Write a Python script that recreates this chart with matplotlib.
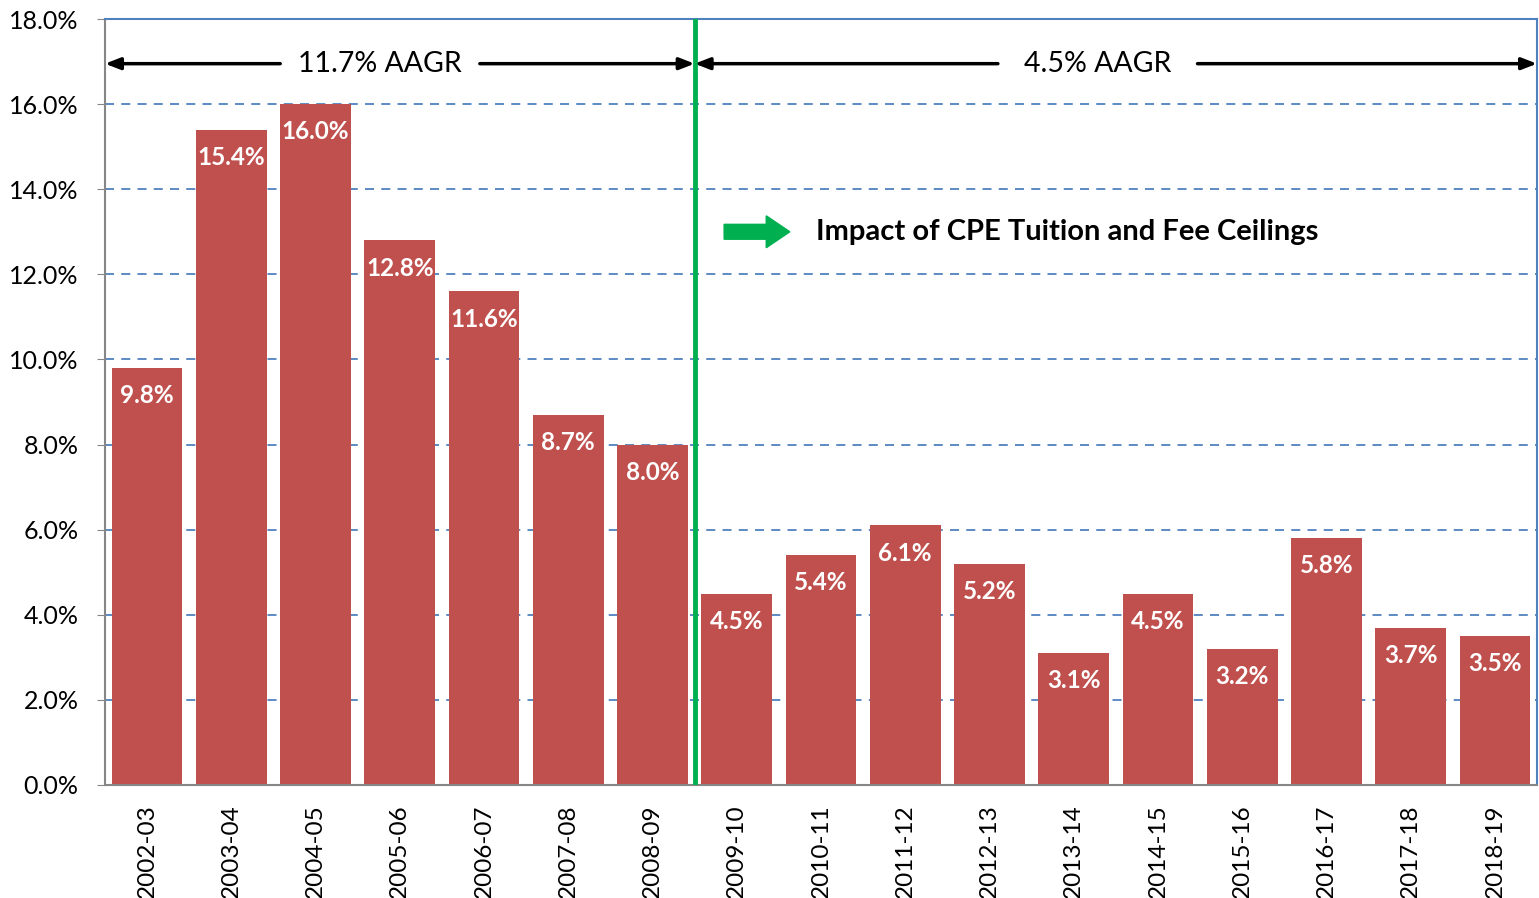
import numpy as np
import matplotlib.pyplot as plt
from matplotlib.patches import FancyArrow

plt.rcParams['font.family'] = ['Lato', 'DejaVu Sans']

# data
years = ['2002-03', '2003-04', '2004-05', '2005-06', '2006-07', '2007-08', '2008-09',
         '2009-10', '2010-11', '2011-12', '2012-13', '2013-14', '2014-15', '2015-16',
         '2016-17', '2017-18', '2018-19']
growth = [9.8, 15.4, 16.0, 12.8, 11.6, 8.7, 8.0,
          4.5, 5.4, 6.1, 5.2, 3.1, 4.5, 3.2, 5.8, 3.7, 3.5]
aagr_labels = ['11.7% AAGR', '4.5% AAGR']
note = 'Impact of CPE Tuition and Fee Ceilings'

bar_color = '#C0504D'
grid_color = '#4F81BD'
green = '#00B050'

fig = plt.figure(figsize=(15.39, 8.98), dpi=100)
ax = fig.add_axes([105/1539, 1 - 785/898, (1537 - 105)/1539, (785 - 19)/898])

x = np.arange(len(years))
ax.bar(x, growth, width=0.84, color=bar_color, zorder=2)

for xi, v in zip(x, growth):
    ax.annotate(f'{v:.1f}%', (xi, v), xytext=(0, -20), textcoords='offset points',
                ha='center', va='center', color='white', fontsize=17.5, fontweight='bold', zorder=3)

ax.set_xlim(-0.5, len(years) - 0.5)
ax.set_ylim(0, 18)
ax.set_yticks(np.arange(0, 19, 2))
ax.set_yticklabels([f'{t:.1f}%' for t in np.arange(0, 19, 2)], fontsize=18)
ax.set_xticks(x)
ax.set_xticklabels(years, rotation=90, fontsize=17.5)
ax.tick_params(axis='x', length=0, pad=14)
ax.tick_params(axis='y', length=6, color='#868686', pad=13)

for g in np.arange(2, 18, 2):
    ax.axhline(g, color=grid_color, lw=1.3, ls=(0, (5, 4)), zorder=1)

ax.spines['top'].set_color(grid_color)
ax.spines['right'].set_color(grid_color)
ax.spines['left'].set_color('#868686')
ax.spines['bottom'].set_color('#868686')
for s in ax.spines.values():
    s.set_linewidth(1.5)

# split line
split = 6.5
ax.axvline(split, color=green, lw=3.5, zorder=4)

# AAGR arrows
ya = 16.95
arrow_kw = dict(arrowstyle='-|>,head_length=0.9,head_width=0.35', color='black', lw=2.5,
                shrinkA=0, shrinkB=0)
segments = [(-0.5, 1.58, 3.95, split, 2.76), (split, 10.10, 12.47, 16.5, 11.29)]
for (x0, x1, x2, x3, xt), lab in zip(segments, aagr_labels):
    ax.annotate('', xy=(x0, ya), xytext=(x1, ya), arrowprops=arrow_kw, zorder=5)
    ax.annotate('', xy=(x3, ya), xytext=(x2, ya), arrowprops=arrow_kw, zorder=5)
    ax.text(xt, ya, lab, ha='center', va='center', fontsize=20.5)

# green block arrow and note
ax.add_patch(FancyArrow(6.85, 13.0, 0.78, 0, width=0.35, head_width=0.75, head_length=0.28,
                        length_includes_head=True, color=green, zorder=5))
ax.text(7.94, 13.0, note, ha='left', va='center', fontsize=21, fontweight='bold')

fig.savefig('out.png', dpi=100)
